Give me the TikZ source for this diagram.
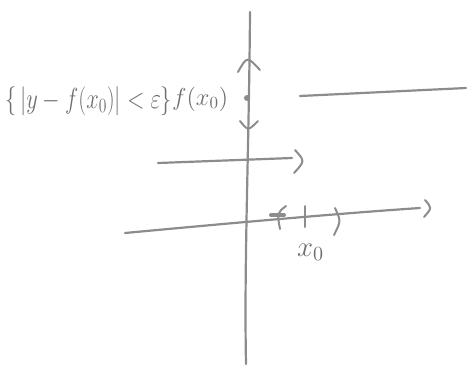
\documentclass[tikz,border=0pt]{standalone}
\usepackage{xcolor}
\usepackage{tikz}
\usetikzlibrary{positioning,calc}
\definecolor{pencil}{HTML}{8C8C8C}
\definecolor{pencildark}{HTML}{6E6E6E}
\tikzset{
  axis/.style={line width=2.2pt,draw=pencil,line cap=round},
  bracket/.style={line width=2pt,draw=pencil,line cap=round},
  sketchlabel/.style={text=pencildark,inner sep=0pt,anchor=base west}
}
\begin{document}
\begin{tikzpicture}[x=1pt,y=-1pt]
  \useasboundingbox (0,0) rectangle (468,367);

  \coordinate (ytop) at (250,12);
  \coordinate (ybot) at (246,364);
  \coordinate (xleft) at (125,233);
  \coordinate (xright) at (420,208);
  \coordinate (midleft) at (158,163);
  \coordinate (midright) at (292,158);
  \coordinate (topleft) at (300,96);
  \coordinate (topright) at (466,88);

  \draw[axis] (ytop) .. controls (249,150) and (244,260) .. (ybot);
  \draw[axis] (xleft) .. controls (200,226) and (330,214) .. (xright);
  \draw[axis] (midleft) -- (midright);
  \draw[axis] (topleft) -- (topright);

  \draw[bracket] (425,200) .. controls (432,208) .. (424,217);
  \draw[bracket] (295,150) .. controls (305,161) .. (294,173);
  \draw[bracket] (286,206) .. controls (277,213) .. (280,229);
  \draw[bracket,line width=4pt] (271,215) -- (284,215);
  \draw[bracket] (305,206) -- (305,227);
  \draw[bracket] (335,208) .. controls (341,221) .. (334,235);

  \draw[bracket] (238,72) .. controls (247,56) .. (260,70);
  \draw[bracket] (240,121) .. controls (248,131) .. (258,121);
  \node[fill=pencil,circle,inner sep=0pt,minimum size=6pt] (fpoint) at (247,98) {};

  \node[sketchlabel,font=\huge] (setlabel) at (5,108) {\scalebox{1.08}[1.4]{$\{\,|y-f(x_0)|<\varepsilon\}$}};
  \node[sketchlabel,font=\Large] (flabel) at (172,105) {\scalebox{1.7}{$f(x_0)$}};
  \node[sketchlabel,font=\Large] (xlabel) at (297,256) {\scalebox{2}{$x_0$}};
\end{tikzpicture}
\end{document}
